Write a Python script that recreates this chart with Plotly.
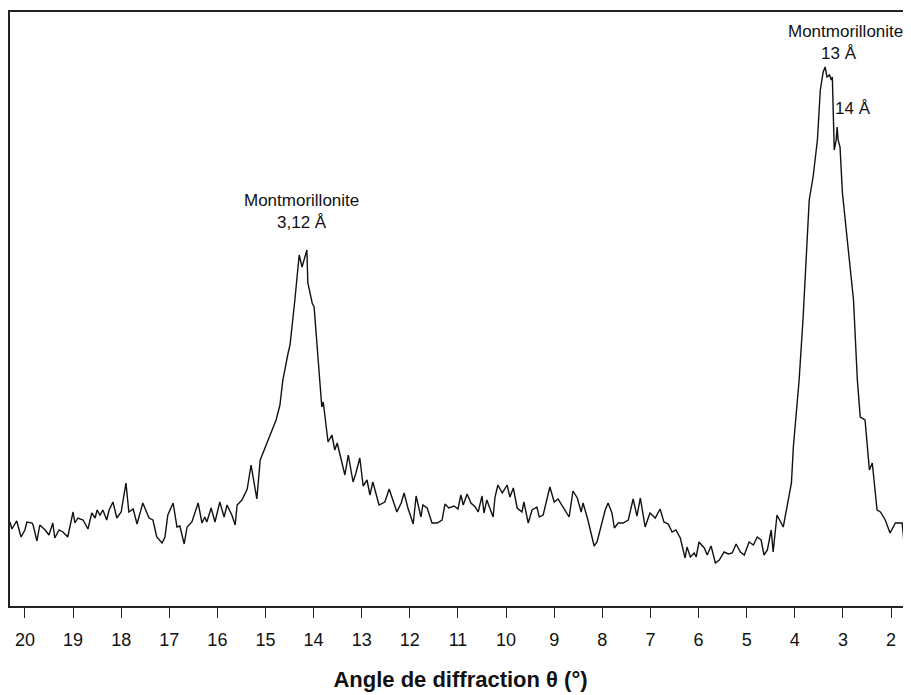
import plotly.graph_objects as go

# diffractogram: angle (deg) and intensity (arbitrary units)
theta = [20.31, 20.27, 20.21, 20.17, 20.08, 20.00, 19.96, 19.85, 19.83, 19.75,
         19.69, 19.58, 19.50, 19.42, 19.38, 19.29, 19.21, 19.11, 19.00, 18.96,
         18.90, 18.79, 18.69, 18.61, 18.54, 18.50, 18.44, 18.38, 18.30, 18.25,
         18.17, 18.09, 18.00, 17.90, 17.84, 17.75, 17.67, 17.55, 17.42, 17.34,
         17.26, 17.15, 17.09, 17.03, 16.92, 16.84, 16.78, 16.69, 16.63, 16.53,
         16.40, 16.32, 16.26, 16.22, 16.13, 16.05, 15.95, 15.86, 15.80, 15.70,
         15.63, 15.59, 15.49, 15.38, 15.30, 15.26, 15.18, 15.11, 15.03, 14.95,
         14.86, 14.78, 14.70, 14.64, 14.53, 14.49, 14.39, 14.30, 14.24, 14.20,
         14.14, 14.12, 14.03, 13.99, 13.95, 13.91, 13.87, 13.83, 13.80, 13.70,
         13.62, 13.56, 13.51, 13.43, 13.35, 13.28, 13.18, 13.12, 13.04, 12.97,
         12.89, 12.83, 12.77, 12.64, 12.52, 12.43, 12.35, 12.27, 12.18, 12.12,
         12.04, 11.93, 11.87, 11.77, 11.73, 11.64, 11.54, 11.43, 11.33, 11.27,
         11.19, 11.08, 11.00, 10.94, 10.89, 10.81, 10.73, 10.64, 10.58, 10.50,
         10.46, 10.40, 10.27, 10.23, 10.17, 10.08, 10.04, 9.98, 9.92, 9.85,
         9.77, 9.67, 9.63, 9.54, 9.46, 9.36, 9.31, 9.23, 9.09, 9.00,
         8.92, 8.81, 8.69, 8.61, 8.52, 8.44, 8.40, 8.30, 8.17, 8.11,
         8.00, 7.94, 7.88, 7.80, 7.75, 7.67, 7.57, 7.46, 7.36, 7.28,
         7.21, 7.11, 7.01, 6.90, 6.80, 6.72, 6.63, 6.55, 6.47, 6.38,
         6.28, 6.24, 6.17, 6.09, 6.05, 5.99, 5.88, 5.82, 5.74, 5.65,
         5.57, 5.47, 5.38, 5.30, 5.22, 5.13, 5.05, 4.95, 4.86, 4.78,
         4.70, 4.64, 4.57, 4.49, 4.45, 4.37, 4.24, 4.16, 4.07, 4.03,
         3.95, 3.91, 3.83, 3.77, 3.70, 3.62, 3.53, 3.47, 3.41, 3.37,
         3.33, 3.28, 3.24, 3.22, 3.18, 3.14, 3.12, 3.10, 3.06, 3.01,
         2.95, 2.87, 2.78, 2.70, 2.64, 2.54, 2.45, 2.39, 2.29, 2.22,
         2.12, 2.02, 1.91, 1.77, 1.71, 1.60]
intensity = [84, 77, 82, 85, 69, 76, 84, 83, 81, 65,
             81, 76, 71, 83, 68, 76, 74, 69, 94, 83,
             88, 86, 77, 93, 88, 96, 91, 96, 86, 96,
             104, 88, 94, 123, 94, 97, 82, 103, 88, 86,
             69, 63, 69, 91, 103, 79, 80, 62, 79, 84,
             103, 83, 89, 84, 98, 84, 104, 89, 101, 91,
             81, 101, 106, 117, 141, 129, 107, 146, 156, 166,
             176, 186, 201, 226, 253, 261, 306, 351, 339, 346,
             356, 323, 303, 299, 276, 246, 226, 199, 204, 164,
             171, 156, 163, 148, 131, 151, 124, 133, 148, 120,
             126, 111, 124, 101, 104, 117, 106, 94, 103, 113,
             98, 82, 110, 89, 101, 98, 83, 83, 86, 102,
             98, 100, 97, 111, 101, 112, 103, 99, 94, 110,
             93, 106, 89, 109, 121, 113, 116, 121, 109, 118,
             98, 94, 104, 83, 96, 99, 89, 91, 119, 104,
             107, 98, 89, 115, 108, 94, 103, 86, 60, 64,
             86, 96, 103, 93, 78, 83, 83, 86, 107, 90,
             108, 79, 93, 88, 97, 84, 82, 74, 76, 68,
             48, 59, 49, 53, 49, 64, 58, 51, 60, 43,
             46, 54, 52, 53, 62, 54, 51, 64, 61, 69,
             66, 51, 56, 76, 54, 91, 79, 98, 123, 159,
             203, 226, 286, 346, 406, 429, 466, 516, 534, 539,
             529, 531, 526, 529, 456, 466, 479, 466, 459, 413,
             386, 346, 306, 226, 189, 186, 136, 143, 96, 94,
             86, 73, 83, 83, 54, 51]

tick_vals = list(range(20, 1, -1))

label_text = ["Montmorillonite<br>3,12 Å", "Montmorillonite<br>13 Å&nbsp;&nbsp;&nbsp;", "14 Å"]
label_x = [14.26, 2.95, 2.79]
label_y = [395, 564, 498]

fig = go.Figure()
fig.add_trace(go.Scatter(x=theta, y=intensity, mode="lines",
                         line=dict(color="#111111", width=1.4),
                         showlegend=False, hoverinfo="skip"))

for txt, lx, ly in zip(label_text, label_x, label_y):
    fig.add_annotation(x=lx, y=ly, text=txt, showarrow=False,
                       font=dict(family="Liberation Sans, Arial", size=17, color="#111111"))

fig.update_layout(
    width=903, height=687,
    margin=dict(l=2, r=0, t=4, b=89),
    paper_bgcolor="white", plot_bgcolor="white",
    font=dict(family="Liberation Sans, Arial", color="#111111"),
    xaxis=dict(range=[20.31, 1.585], tickvals=tick_vals,
               ticktext=[str(v) for v in tick_vals],
               ticks="outside", ticklen=10, tickwidth=1.3, tickcolor="#222222",
               ticklabelstandoff=7,
               showline=True, linecolor="#222222", linewidth=1.5, mirror=True,
               showgrid=False, zeroline=False,
               tickfont=dict(size=18),
               title=dict(text="<b>Angle de diffraction θ (°)</b>",
                          font=dict(size=22), standoff=22)),
    yaxis=dict(range=[0, 594], showticklabels=False, ticks="",
               showline=True, linecolor="#222222", linewidth=1.5,
               showgrid=False, zeroline=False),
)

fig.write_html("out.html")
